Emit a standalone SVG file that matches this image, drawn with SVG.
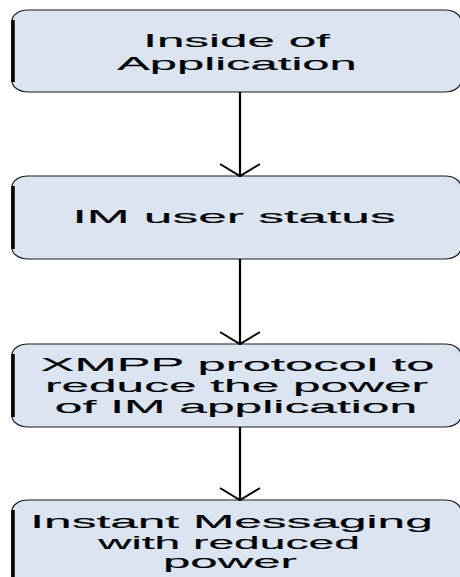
<svg xmlns="http://www.w3.org/2000/svg" width="460" height="577" viewBox="0 0 460 577">
  <defs>
    <style>
      .box { fill: #dbe5f1; stroke: #1a1a1a; stroke-width: 1.2; }
      .edge { fill: none; stroke: #000; stroke-width: 3.5; stroke-linecap: butt; }
      .lbl { font-family: "Liberation Sans", Arial, sans-serif; font-size: 19px; fill: #000; stroke: #000; stroke-width: 0.15; text-anchor: middle; }
      .wire { fill: none; stroke: #000; stroke-width: 2.2; }
      .head { fill: none; stroke: #000; stroke-width: 2; stroke-linejoin: miter; }
    </style>
  </defs>

  <!-- process steps; labels are widened horizontally with scale() -->
  <g id="node-inside">
    <rect class="box" x="12" y="10" width="449" height="82" rx="16" ry="11"/>
    <line class="edge" x1="13" y1="20" x2="13" y2="82"/>
    <text class="lbl" transform="translate(236.5 47) scale(2.6 1)">Inside of</text>
    <text class="lbl" transform="translate(237 70) scale(2.58 1)">Application</text>
  </g>

  <g id="node-status">
    <rect class="box" x="12" y="176" width="449" height="83" rx="16" ry="11"/>
    <line class="edge" x1="13" y1="186" x2="13" y2="249"/>
    <text class="lbl" transform="translate(234 223) scale(2.71 1)">IM user status</text>
  </g>

  <g id="node-xmpp">
    <rect class="box" x="12" y="344" width="449" height="83" rx="16" ry="11"/>
    <line class="edge" x1="13" y1="354" x2="13" y2="417"/>
    <text class="lbl" transform="translate(237.5 371) scale(2.67 1)">XMPP protocol to</text>
    <text class="lbl" transform="translate(236.5 392) scale(2.61 1)">reduce the power</text>
    <text class="lbl" transform="translate(236 413) scale(2.62 1)">of IM application</text>
  </g>

  <g id="node-result">
    <rect class="box" x="12" y="500" width="449" height="90" rx="16" ry="11"/>
    <line class="edge" x1="13" y1="510" x2="13" y2="580"/>
    <text class="lbl" transform="translate(231.5 528) scale(2.61 1)">Instant Messaging</text>
    <text class="lbl" transform="translate(229 549) scale(2.43 1)">with reduced</text>
    <text class="lbl" transform="translate(230 568) scale(2.59 1)">power</text>
  </g>

  <!-- connectors -->
  <g id="connectors">
    <line class="wire" x1="240" y1="92" x2="240" y2="176"/>
    <polyline class="head" points="220,164 240,176 260,164"/>
    <line class="wire" x1="240" y1="259" x2="240" y2="344"/>
    <polyline class="head" points="220,332 240,344 260,332"/>
    <line class="wire" x1="240" y1="427" x2="240" y2="500"/>
    <polyline class="head" points="220,488 240,500 260,488"/>
  </g>
</svg>
